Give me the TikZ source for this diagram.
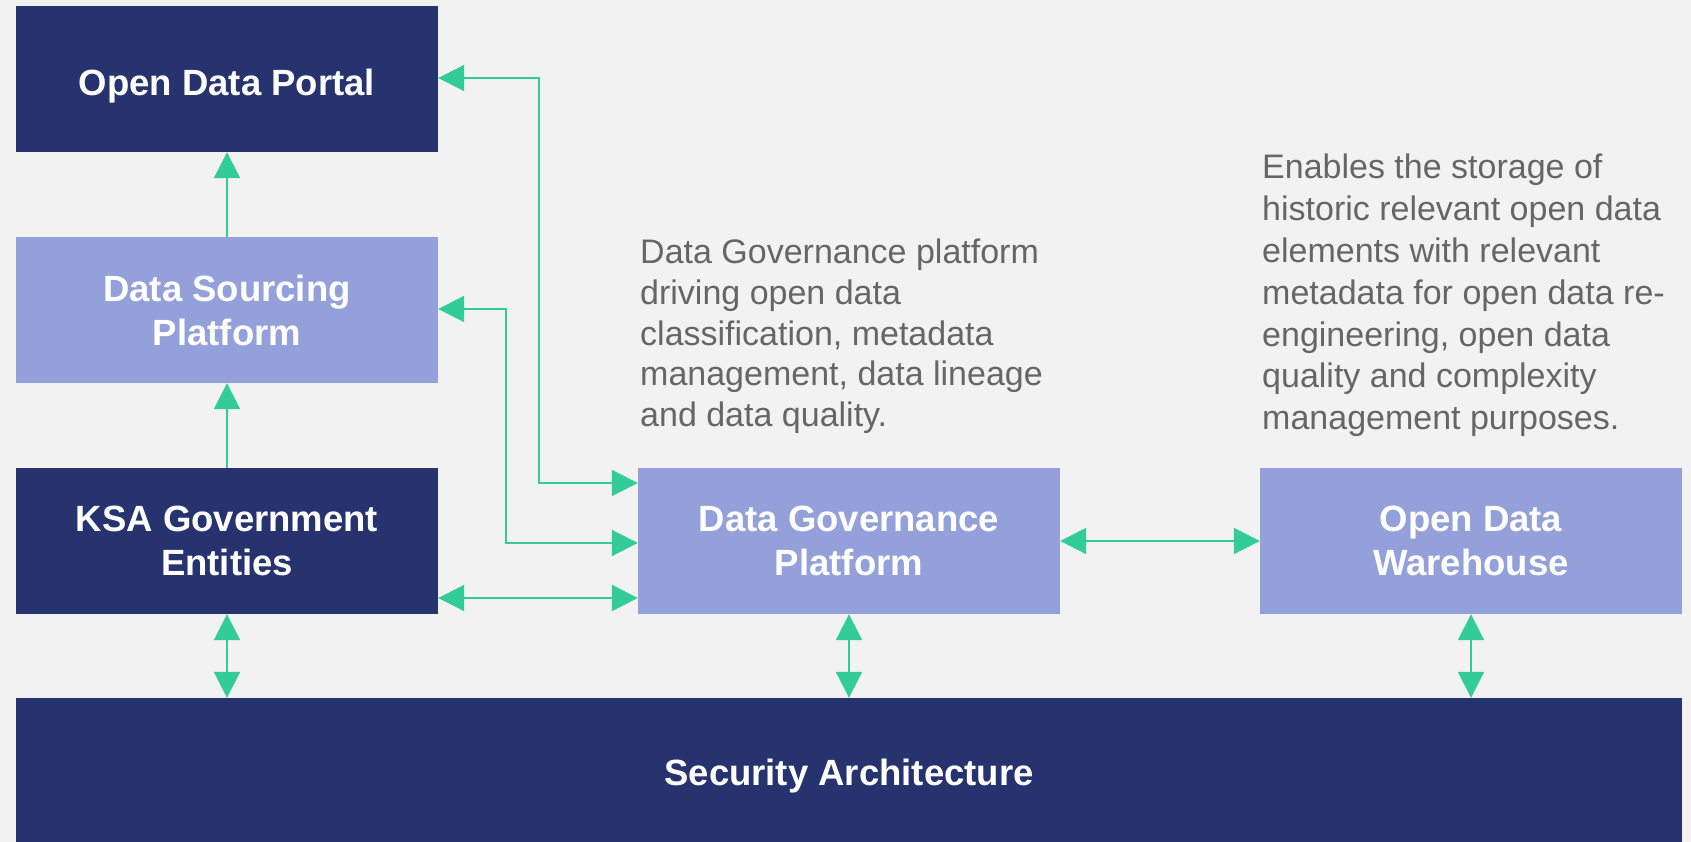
\documentclass[tikz,border=0pt]{standalone}
\usepackage{fontspec}
\setmainfont{Liberation Sans}
\usetikzlibrary{arrows.meta}
\definecolor{navy}{HTML}{27336E}
\definecolor{peri}{HTML}{93A0DA}
\definecolor{grn}{HTML}{33CC99}
\definecolor{bg}{HTML}{F2F2F2}
\definecolor{txtgray}{HTML}{666666}
\tikzset{
  box/.style={rectangle, inner sep=0pt, minimum width=422pt, minimum height=146pt,
    text=white, align=center, font=\fontsize{36.5}{44}\selectfont\bfseries},
  darkbox/.style={box, fill=navy},
  lightbox/.style={box, fill=peri},
  desc/.style={anchor=north west, inner sep=0pt, align=left, text=txtgray},
  conn/.style={draw=grn, line width=2pt, -{Triangle[length=26pt,width=26pt]}},
  dconn/.style={draw=grn, line width=2pt, {Triangle[length=26pt,width=26pt]}-{Triangle[length=26pt,width=26pt]}},
}
\begin{document}
\begin{tikzpicture}[x=1pt,y=-1pt]
\fill[bg] (0,0) rectangle (1691,842);
\useasboundingbox (0,0) rectangle (1691,842);

\node[darkbox, text height=41pt, text depth=7pt] (odp) at (227,79) {Open Data Portal};
\node[lightbox] (dsp) at (227,310) {Data Sourcing\\Platform};
\node[darkbox] (ksa) at (227,541) {KSA Government\\Entities};
\node[lightbox] (dgp) at (849,541) {Data Governance\\Platform};
\node[lightbox] (odw) at (1471,541) {Open Data\\Warehouse};
\node[darkbox, minimum width=1666pt, minimum height=148pt, text height=34.4pt, text depth=7pt] (sec) at (849,772) {Security Architecture};

\node[desc, font=\fontsize{34}{40.6}\selectfont] (d1) at (640,239) {Data Governance platform\\driving open data\\classification, metadata\\management, data lineage\\and data quality.};
\node[desc, font=\fontsize{34}{41.8}\selectfont] (d2) at (1262,154) {Enables the storage of\\historic relevant open data\\elements with relevant\\metadata for open data re-\\engineering, open data\\quality and complexity\\management purposes.};

\coordinate (c1a) at (539,483);
\coordinate (c1b) at (539,78);
\coordinate (c2a) at (506,543);
\coordinate (c2b) at (506,309);

\draw[conn] (dsp.north) -- (odp.south);
\draw[conn] (ksa.north) -- (dsp.south);
\draw[dconn] (ksa.south) -- (sec.north -| ksa.south);
\draw[dconn] (dgp.south) -- (sec.north -| dgp.south);
\draw[dconn] (odw.south) -- (sec.north -| odw.south);
\draw[dconn] (dgp.east) -- (odw.west);
\draw[dconn] (ksa.east |- 0,598) -- (dgp.west |- 0,598);
\draw[dconn] (dgp.west |- c1a) -- (c1a) -- (c1b) -- (odp.east |- c1b);
\draw[dconn] (dgp.west |- c2a) -- (c2a) -- (c2b) -- (dsp.east |- c2b);
\end{tikzpicture}
\end{document}
